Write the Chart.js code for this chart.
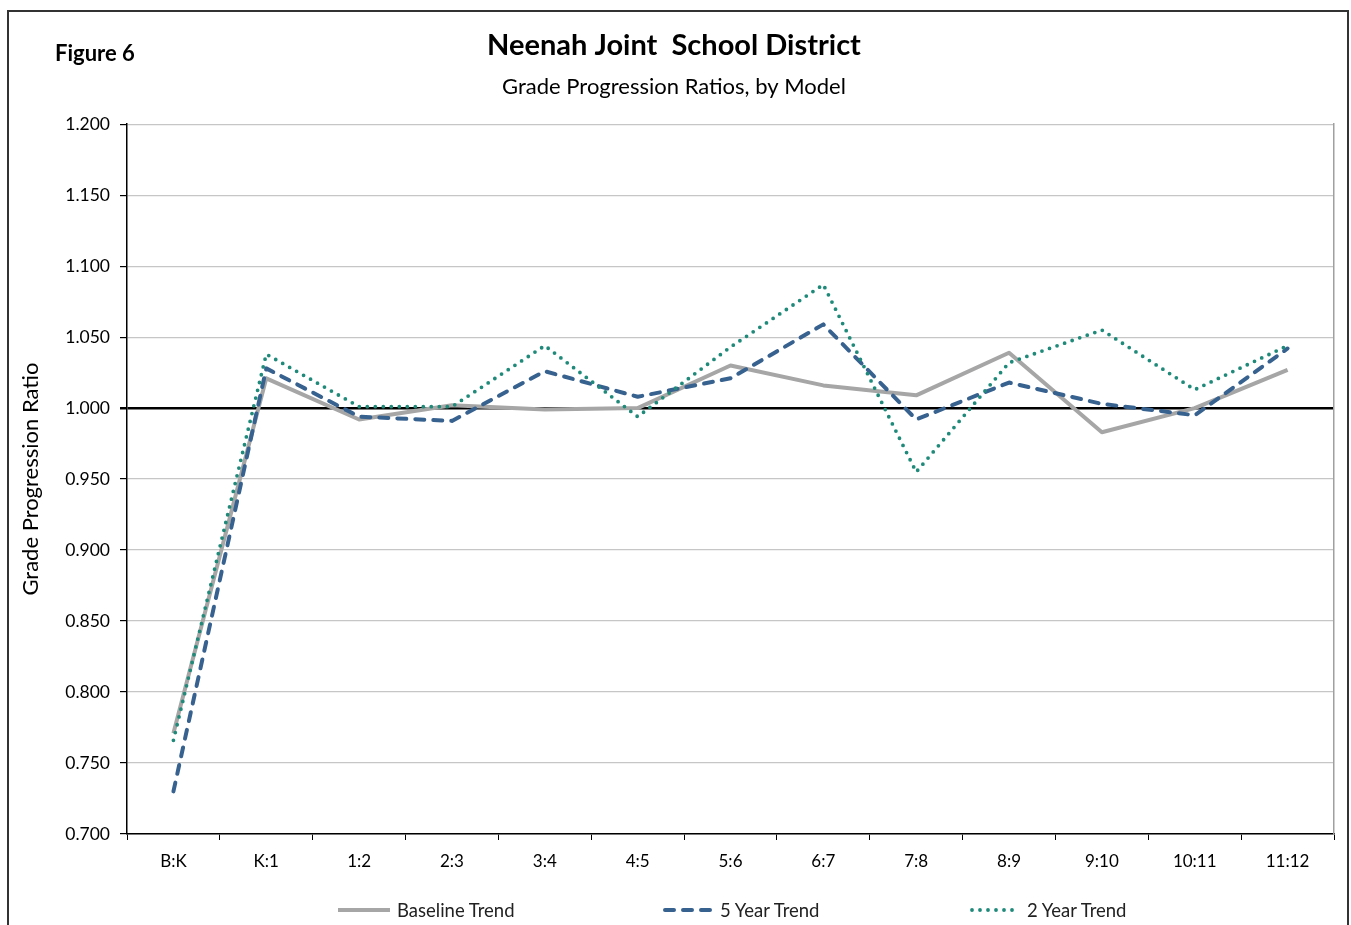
<!DOCTYPE html>
<html>
<head>
<meta charset="utf-8">
<script src="https://cdn.jsdelivr.net/npm/chart.js@4.4.0/dist/chart.umd.min.js"></script>
<style>
  body { margin: 0; background: #fff; font-family: Lato, sans-serif; }
  #wrap { position: relative; width: 1351px; height: 925px; overflow: hidden; }
  #frame { position: absolute; left: 7px; top: 10px; width: 1342px; height: 940px; border: 2px solid #333; box-sizing: border-box; pointer-events: none; }
  #fig { position: absolute; left: 55px; top: 39px; font: bold 22px Lato, sans-serif; color: #000; }
  .leg { position: absolute; top: 898px; height: 24px; display: flex; align-items: center; font: 18.5px Lato, sans-serif; color: #222; }
  .leg svg { margin-right: 5px; }
</style>
</head>
<body>
<div id="wrap">
  <canvas id="chart" width="1351" height="925"></canvas>
  <div id="frame"></div>
  <div id="fig">Figure 6</div>
  <div id="legend"></div>
</div>
<script>
// grade-to-grade ratio labels
const grades = ['B:K', 'K:1', '1:2', '2:3', '3:4', '4:5', '5:6', '6:7', '7:8', '8:9', '9:10', '10:11', '11:12'];

const baseline = [0.771, 1.021, 0.992, 1.002, 0.999, 1.000, 1.030, 1.016, 1.009, 1.039, 0.983, 1.000, 1.027];
const fiveYear = [0.730, 1.028, 0.994, 0.991, 1.026, 1.008, 1.021, 1.059, 0.992, 1.018, 1.003, 0.995, 1.042];
const twoYear  = [0.766, 1.038, 1.001, 1.001, 1.044, 0.994, 1.043, 1.087, 0.955, 1.032, 1.055, 1.013, 1.044];

const GRAY = '#a6a6a6', BLUE = '#37618f', GREEN = '#1f8a7a';

const series = [
    { label: 'Baseline Trend', data: baseline, color: GRAY, width: 4, dash: [], cap: 'butt', order: 2 },
    { label: '5 Year Trend', data: fiveYear, color: BLUE, width: 4, dash: [9, 9], cap: 'round', order: 1 },
    { label: '2 Year Trend', data: twoYear, color: GREEN, width: 3.8, dash: [0, 8], cap: 'round', order: 0 }
];

const isOne = v => Math.abs(v - 1) < 1e-6;

new Chart(document.getElementById('chart'), {
    type: 'line',
    data: {
        labels: grades,
        datasets: series.map(s => ({
            label: s.label,
            data: s.data,
            borderColor: s.color,
            backgroundColor: s.color,
            borderWidth: s.width,
            borderDash: s.dash,
            borderCapStyle: s.cap,
            borderJoinStyle: 'round',
            pointRadius: 0,
            tension: 0,
            order: s.order
        }))
    },
    options: {
        responsive: false,
        animation: false,
        layout: { padding: { left: 14, right: 17, top: 0, bottom: 51 } },
        plugins: {
            legend: { display: false },
            tooltip: { enabled: false },
            title: {
                display: true,
                text: 'Neenah Joint  School District',
                color: '#000',
                font: { family: 'Lato', size: 29, weight: 'bold' },
                padding: { top: 28, bottom: 6 }
            },
            subtitle: {
                display: true,
                text: 'Grade Progression Ratios, by Model',
                color: '#000',
                font: { family: 'Lato', size: 22 },
                padding: { top: 5, bottom: 24 }
            }
        },
        scales: {
            x: {
                offset: true,
                afterFit: axis => { axis.height = 40; },
                grid: { drawOnChartArea: false, tickLength: 6, tickColor: '#000', offset: true },
                border: { color: '#000', width: 1.5 },
                ticks: { color: '#000', font: { family: 'Lato', size: 17 }, padding: 11, maxRotation: 0, autoSkip: false }
            },
            y: {
                min: 0.7,
                max: 1.2,
                afterFit: axis => { axis.width = 113; },
                ticks: {
                    stepSize: 0.05,
                    color: '#000',
                    padding: 10,
                    font: { family: 'Lato', size: 17.5 },
                    callback: v => v.toFixed(3)
                },
                grid: {
                    tickLength: 7,
                    tickColor: '#000',
                    color: ctx => isOne(ctx.tick.value) ? '#000' : '#c6c6c6',
                    lineWidth: ctx => isOne(ctx.tick.value) ? 2.5 : 1.2
                },
                border: { color: '#000', width: 1.5 },
                title: {
                    display: true,
                    text: 'Grade Progression Ratio',
                    color: '#000',
                    font: { family: 'Lato', size: 22 },
                    padding: { top: 4, bottom: 0 }
                }
            },
            yRight: {
                position: 'right',
                min: 0.7,
                max: 1.2,
                afterFit: axis => { axis.width = 0; },
                ticks: { display: false },
                grid: { display: false },
                border: { color: '#a0a0a0', width: 1.5 }
            }
        }
    }
});

// legend drawn as html with line samples
const legendPos = [
    { left: 338, w: 54 },
    { left: 663, w: 52 },
    { left: 970, w: 52 }
];
const legend = document.getElementById('legend');
series.forEach((s, i) => {
    const item = document.createElement('div');
    item.className = 'leg';
    item.style.left = legendPos[i].left + 'px';
    const w = legendPos[i].w;
    const dash = s.dash.length ? `stroke-dasharray="${s.dash.join(' ')}"` : '';
    item.innerHTML = `<svg width="${w}" height="10"><line x1="${s.cap === 'round' ? 2 : 0}" y1="5" x2="${w - 2}" y2="5" stroke="${s.color}" stroke-width="${s.width}" stroke-linecap="${s.cap}" ${dash}/></svg><span>${s.label}</span>`;
    legend.appendChild(item);
});
</script>
</body>
</html>
